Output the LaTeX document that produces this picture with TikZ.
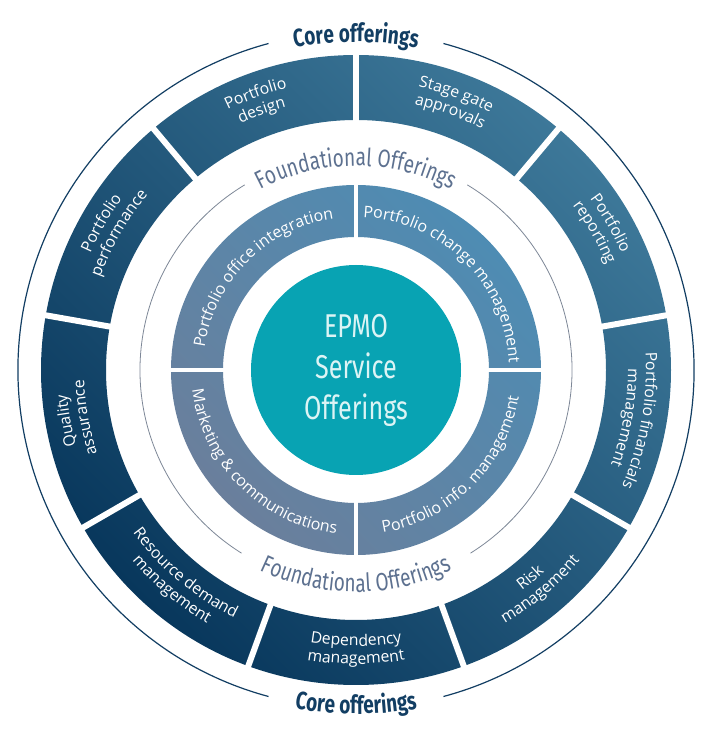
\documentclass[tikz,border=0pt]{standalone}
\usepackage{fontspec}
\setmainfont{Open Sans}
\newfontfamily\condfont[FakeStretch=0.76]{Fira Sans}
\usetikzlibrary{decorations.text}

\definecolor{outerlight}{HTML}{3D7899}
\definecolor{outerdark}{HTML}{08375C}
\definecolor{innerlight}{HTML}{4E8CB3}
\definecolor{innerdark}{HTML}{6A7F9C}
\definecolor{epmoteal}{HTML}{08A3B3}
\definecolor{epmotext}{HTML}{DCF4F5}
\definecolor{corenavy}{HTML}{123E63}
\definecolor{foundgray}{HTML}{5D7190}
\definecolor{foundline}{HTML}{7D8797}

\newcommand{\outerfont}{\fontsize{15.8}{18}\selectfont}
\newcommand{\innerfont}{\fontsize{16}{18}\selectfont}
\newcommand{\foundfont}{\condfont\fontsize{25}{28}\selectfont}
\newcommand{\corefont}{\condfont\bfseries\fontsize{25}{28}\selectfont}

% text on an arc round (c), centred on angle #1, baseline radius #2
% cw: letters face outward, ccw: letters face the centre
\newcommand{\cwtext}[4]{%
  \path[decorate, decoration={text along path, text align=center,
    text color=#3, text={#4}}]
    (c) ++({#1+45}:#2) arc[start angle={#1+45}, end angle={#1-45}, radius=#2];}
\newcommand{\ccwtext}[4]{%
  \path[decorate, decoration={text along path, text align=center,
    text color=#3, text={#4}}]
    (c) ++({#1-45}:#2) arc[start angle={#1-45}, end angle={#1+45}, radius=#2];}

\tikzset{
  gapline/.style={white, line width=#1},
  ringarc/.style={line width=#1}
}

\begin{document}
\begin{tikzpicture}
    \fill[white] (0,0) rectangle (712pt,740pt);
    \useasboundingbox (0,0) rectangle (712pt,740pt);
    \coordinate (c) at (356pt,370pt);

    % Core ring
    \shade[even odd rule, top color=outerlight, bottom color=outerdark, shading angle=-45]
        (c) circle[radius=315pt] (c) circle[radius=250pt];
    \foreach \a in {90,130,...,410}
        \draw[gapline=6pt] (c) ++(\a:244pt) -- ++(\a:78pt);

    % Foundational ring
    \shade[even odd rule, top color=innerlight, bottom color=innerdark, shading angle=-45]
        (c) circle[radius=185pt] (c) circle[radius=133pt];
    \foreach \a in {0,90,180,270}
        \draw[gapline=4.5pt] (c) ++(\a:128pt) -- ++(\a:62pt);

    % Centre
    \fill[epmoteal] (c) circle[radius=105pt];
    \node[align=center, text=epmotext, font=\condfont\fontsize{33}{41}\selectfont] (epmo) at (c) {EPMO\\Service\\Offerings};

    % Thin rings
    \draw[corenavy, ringarc=1.2pt] (c) ++(105:338pt) arc[start angle=105, end angle=255, radius=338pt];
    \draw[corenavy, ringarc=1.2pt] (c) ++(285:338pt) arc[start angle=285, end angle=435, radius=338pt];
    \draw[foundline, ringarc=0.8pt] (c) ++(121:216pt) arc[start angle=121, end angle=238, radius=216pt];
    \draw[foundline, ringarc=0.8pt] (c) ++(302:216pt) arc[start angle=302, end angle=419, radius=216pt];

    % Ring titles
    \cwtext{90}{328pt}{corenavy}{|\corefont|Core offerings}
    \ccwtext{270}{344pt}{corenavy}{|\corefont|Core offerings}
    \cwtext{90}{204pt}{foundgray}{|\foundfont|Foundational Offerings}
    \ccwtext{270}{222pt}{foundgray}{|\foundfont|Foundational Offerings}

    % Core offerings
    \cwtext{110}{290pt}{white}{|\outerfont|Portfolio}
    \cwtext{110}{272pt}{white}{|\outerfont|design}
    \cwtext{70}{290pt}{white}{|\outerfont|Stage gate}
    \cwtext{70}{272pt}{white}{|\outerfont|approvals}
    \cwtext{30}{290pt}{white}{|\outerfont|Portfolio}
    \cwtext{30}{272pt}{white}{|\outerfont|reporting}
    \cwtext{350}{290pt}{white}{|\outerfont|Portfolio financials}
    \cwtext{350}{272pt}{white}{|\outerfont|management}
    \ccwtext{310}{276pt}{white}{|\outerfont|Risk}
    \ccwtext{310}{294pt}{white}{|\outerfont|management}
    \ccwtext{270}{276pt}{white}{|\outerfont|Dependency}
    \ccwtext{270}{294pt}{white}{|\outerfont|management}
    \ccwtext{230}{276pt}{white}{|\outerfont|Resource demand}
    \ccwtext{230}{294pt}{white}{|\outerfont|management}
    \cwtext{190}{290pt}{white}{|\outerfont|Quality}
    \cwtext{190}{272pt}{white}{|\outerfont|assurance}
    \cwtext{150}{290pt}{white}{|\outerfont|Portfolio}
    \cwtext{150}{272pt}{white}{|\outerfont|performance}

    % Foundational offerings
    \cwtext{135}{153pt}{white}{|\innerfont|Portfolio office integration}
    \cwtext{45}{153pt}{white}{|\innerfont|Portfolio change management}
    \ccwtext{315}{165pt}{white}{|\innerfont|Portfolio info. management}
    \ccwtext{225}{165pt}{white}{|\innerfont|Marketing {\&} communications}
\end{tikzpicture}
\end{document}
